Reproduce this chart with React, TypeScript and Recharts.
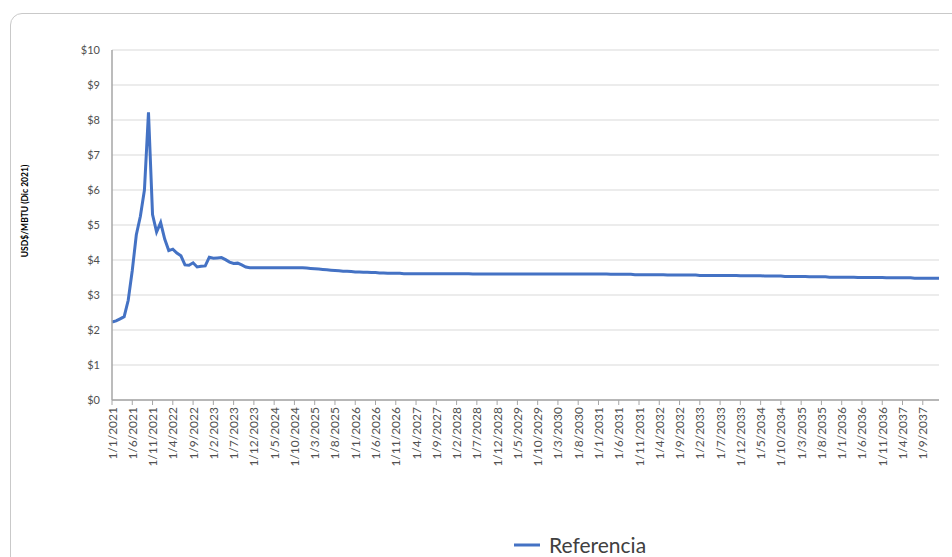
import React from "react";
import { CartesianGrid, Legend, Line, LineChart, XAxis, YAxis } from "recharts";

// monthly, starting 1/1/2021 (label format d/m/yyyy)
const startYear = 2021;
const monthCount = 205;
const months: string[] = [];
for (let i = 0; i < monthCount; i++) {
  months.push(`1/${(i % 12) + 1}/${startYear + Math.floor(i / 12)}`);
}

// USD$/MBTU (Dic 2021), one row per year
const referencia = [
  2.23, 2.26, 2.32, 2.38, 2.85, 3.7, 4.72, 5.25, 6.0, 8.22, 5.3, 4.8,
  5.07, 4.6, 4.27, 4.31, 4.2, 4.12, 3.86, 3.85, 3.92, 3.8, 3.82, 3.83,
  4.08, 4.05, 4.06, 4.07, 4.01, 3.94, 3.9, 3.91, 3.86, 3.8, 3.78, 3.78,
  3.78, 3.78, 3.78, 3.78, 3.78, 3.78, 3.78, 3.78, 3.78, 3.78, 3.78, 3.78,
  3.77, 3.76, 3.75, 3.74, 3.73, 3.72, 3.71, 3.7, 3.69, 3.68, 3.68, 3.67,
  3.66, 3.66, 3.65, 3.65, 3.64, 3.64, 3.63, 3.63, 3.62, 3.62, 3.62, 3.62,
  3.61, 3.61, 3.61, 3.61, 3.61, 3.61, 3.61, 3.61, 3.61, 3.61, 3.61, 3.61,
  3.61, 3.61, 3.61, 3.61, 3.61, 3.6, 3.6, 3.6, 3.6, 3.6, 3.6, 3.6,
  3.6, 3.6, 3.6, 3.6, 3.6, 3.6, 3.6, 3.6, 3.6, 3.6, 3.6, 3.6,
  3.6, 3.6, 3.6, 3.6, 3.6, 3.6, 3.6, 3.6, 3.6, 3.6, 3.6, 3.6,
  3.6, 3.6, 3.6, 3.59, 3.59, 3.59, 3.59, 3.59, 3.59, 3.58, 3.58, 3.58,
  3.58, 3.58, 3.58, 3.58, 3.58, 3.57, 3.57, 3.57, 3.57, 3.57, 3.57, 3.57,
  3.57, 3.56, 3.56, 3.56, 3.56, 3.56, 3.56, 3.56, 3.56, 3.56, 3.56, 3.55,
  3.55, 3.55, 3.55, 3.55, 3.55, 3.54, 3.54, 3.54, 3.54, 3.54, 3.53, 3.53,
  3.53, 3.53, 3.53, 3.53, 3.52, 3.52, 3.52, 3.52, 3.52, 3.51, 3.51, 3.51,
  3.51, 3.51, 3.51, 3.51, 3.5, 3.5, 3.5, 3.5, 3.5, 3.5, 3.5, 3.49,
  3.49, 3.49, 3.49, 3.49, 3.49, 3.49, 3.48, 3.48, 3.48, 3.48, 3.48, 3.48,
  3.48
];

const yTicks = [0, 1, 2, 3, 4, 5, 6, 7, 8, 9, 10];

const data = months.map((date, i) => ({ date, referencia: referencia[i] }));

const FONT = "Lato, 'Noto Sans', sans-serif";
const AXIS_GRAY = "#a6a6a6";
const LINE_BLUE = "#4472C4";

function DateTick({ x, y, payload }: any) {
  return (
    <text
      x={x}
      y={y}
      transform={`rotate(-90 ${x} ${y})`}
      textAnchor="end"
      dominantBaseline="central"
      fontFamily={FONT}
      fontSize={12}
      fill="#505050">
      {payload.value}
    </text>
  );
}

function YTitle() {
  const cx = 14;
  const cy = 197;
  return (
    <text
      x={cx}
      y={cy}
      transform={`rotate(-90 ${cx} ${cy})`}
      textAnchor="middle"
      dominantBaseline="central"
      fontFamily={FONT}
      fontSize={8.5}
      fontWeight={700}
      fill="#000">
      USD$/MBTU (Dic 2021)
    </text>
  );
}

function LegendBox() {
  return (
    <div
      style={{
        display: "flex",
        alignItems: "center",
        height: 18,
        lineHeight: "18px",
        fontFamily: FONT,
        fontSize: 21,
        color: "#404040",
        whiteSpace: "nowrap"
      }}>
      <svg width={26} height={6} style={{ marginRight: 9 }}>
        <line x1={0} y1={3} x2={26} y2={3} stroke={LINE_BLUE} strokeWidth={3} />
      </svg>
      <span>Referencia</span>
    </div>
  );
}

export default function App() {
  return (
    <div
      style={{
        position: "fixed",
        left: 0,
        top: 0,
        width: 952,
        height: 557,
        overflow: "hidden",
        background: "#fff"
      }}>
      <div
        style={{
          position: "absolute",
          left: 10,
          top: 13,
          width: 960,
          height: 580,
          border: "1px solid #c9c9c9",
          borderRadius: 12,
          boxSizing: "border-box"
        }}>
        <LineChart
          width={940}
          height={544}
          data={data}
          margin={{ top: 36, right: 12, bottom: 0, left: 0 }}>
          <CartesianGrid
            vertical={false}
            stroke="#d9d9d9"
            strokeDasharray=""
          />
          <XAxis
            dataKey="date"
            type="category"
            interval={4}
            height={158}
            tickSize={5}
            tickMargin={2}
            axisLine={{ stroke: AXIS_GRAY, strokeWidth: 1.5 }}
            tickLine={{ stroke: AXIS_GRAY }}
            tick={<DateTick />}
          />
          <YAxis
            type="number"
            domain={[0, 10]}
            ticks={yTicks}
            width={101}
            tickSize={0}
            tickMargin={12}
            tickLine={false}
            axisLine={{ stroke: AXIS_GRAY, strokeWidth: 1.5 }}
            tickFormatter={(v: number) => `$${v}`}
            tick={{ fontFamily: FONT, fontSize: 11, fill: "#505050" }}
            label={<YTitle />}
          />
          <Legend
            layout="horizontal"
            verticalAlign="middle"
            align="center"
            wrapperStyle={{ left: 503, top: 522, width: "auto", height: 18 }}
            content={<LegendBox />}
          />
          <Line
            type="linear"
            dataKey="referencia"
            name="Referencia"
            stroke={LINE_BLUE}
            strokeWidth={3}
            dot={false}
            activeDot={false}
            isAnimationActive={false}
          />
        </LineChart>
      </div>
    </div>
  );
}
